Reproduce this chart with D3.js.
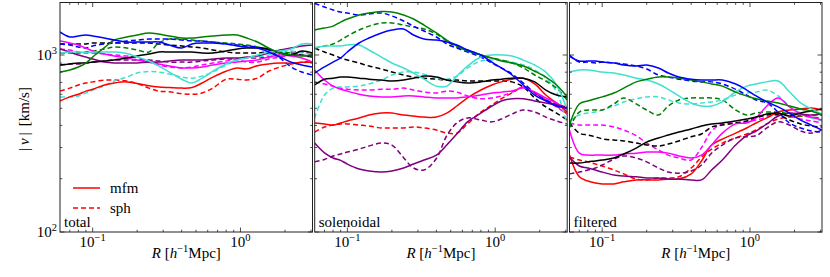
<!DOCTYPE html>
<html><head><meta charset="utf-8">
<script src="https://cdn.jsdelivr.net/npm/d3@7"></script>
<style>
html,body{margin:0;padding:0;background:#fff;}
</style></head>
<body><svg id="c" width="830" height="277" font-family="'Liberation Serif','Times New Roman','DejaVu Serif',serif"></svg>
<script>
// ---- data ----
const R = [0.06,0.07,0.08,0.09,0.1,0.12,0.14,0.17,0.2,0.24,0.28,0.33,0.4,0.47,0.55,0.65,0.8,0.95,1.1,1.3,1.55,1.85,2.2,2.6,3.07];
const seriesColors = ["red","magenta","purple","black","turquoise","green","blue"];
const panelNames = ["total","solenoidal","filtered"];
const xTicks = [0.1, 1];
const xTickLabels = ["10", "10"]; const xTickExps = ["\u22121","0"];
const yTicks = [100, 1000];
const yTickLabels = ["10","10"]; const yTickExps = ["2","3"];

const totalMfm = {
  red:[550,580,600,625,640,677,695,705,690,670,660,655,650,655,695,750,810,845,835,870,890,900,900,910,910],
  magenta:[1199,1169,1139,1095,1053,1013,987,962,937,912,890,867,845,845,856,878,901,912,925,937,974,1000,987,962,912],
  purple:[1081,1040,1000,974,949,912,901,901,901,912,912,925,937,937,937,949,962,962,974,987,1026,1067,1095,1124,1139],
  black:[878,890,901,901,912,925,937,962,987,1013,1040,1040,1040,1040,1026,1026,1053,1081,1095,1095,1081,1026,1000,1053,1026],
  turquoise:[1026,1040,1040,1033,1040,1040,1040,1020,974,925,867,801,730,695,740,810,890,937,962,1000,1040,1053,1081,1154,1154],
  green:[801,823,856,901,974,1100,1215,1264,1297,1332,1314,1280,1247,1247,1264,1280,1297,1297,1247,1184,1095,1026,1000,987,1000],
  blue:[1349,1264,1280,1297,1280,1247,1215,1184,1184,1184,1184,1139,1095,1154,1169,1169,1154,1124,1110,1095,1040,974,912,878,856]
};
const totalSph = {
  red:[625,650,677,695,705,722,722,713,690,650,625,620,605,600,610,650,730,730,722,740,810,855,890,910,937],
  magenta:[1081,1067,1040,1026,1026,1013,1000,987,962,912,878,856,845,856,878,901,925,937,912,912,949,974,1000,1000,962],
  purple:[878,890,890,901,912,925,937,937,937,937,925,912,912,912,925,937,949,949,962,962,974,1000,1040,1040,1013],
  black:[1154,1154,1154,1154,1169,1169,1169,1169,1169,1169,1154,1139,1124,1110,1095,1067,1040,1026,1026,1026,1040,1026,1013,1000,974],
  turquoise:[580,580,587,610,634,670,713,751,791,807,801,780,751,740,760,801,878,937,962,974,1000,1026,1053,1026,1013],
  green:[1026,1026,1026,1040,1053,1081,1110,1095,1067,1040,1169,1231,1231,1215,1199,1184,1169,1154,1139,1110,1067,1040,1026,1000,987],
  blue:[1154,1139,1110,1095,1124,1154,1169,1199,1215,1231,1231,1231,1215,1199,1199,1184,1154,1139,1124,1110,1067,962,856,801,771]
};
const solMfm = {
  red:[413,408,402,413,424,441,458,470,470,458,452,446,446,470,515,572,634,677,705,730,740,686,594,536,476],
  magenta:[823,722,667,640,625,600,587,580,580,587,587,580,572,572,572,580,594,610,617,627,650,617,572,536,489],
  purple:[318,280,262,254,242,227,221,218,221,230,242,255,272,310,358,419,470,515,550,566,566,550,536,522,509],
  black:[677,730,740,751,751,740,730,722,713,722,740,760,751,722,705,695,705,722,730,740,740,705,634,594,580],
  turquoise:[1095,1124,1124,1124,1139,1139,1067,974,901,845,791,730,667,667,760,867,974,1000,1000,987,937,878,801,677,489],
  green:[1384,1419,1456,1535,1597,1683,1726,1760,1752,1683,1597,1477,1332,1215,1124,1053,1000,962,925,901,867,810,751,677,580],
  blue:[791,856,912,962,1040,1169,1247,1332,1384,1402,1297,1231,1215,1184,1139,1067,1000,912,845,771,677,594,550,515,502]
};
const solSph = {
  red:[367,392,402,408,408,402,397,387,387,387,392,387,377,362,362,408,476,522,566,610,660,610,557,515,464],
  magenta:[705,686,667,650,640,634,634,640,640,650,634,617,610,625,617,587,566,572,587,617,660,617,557,509,464],
  purple:[249,257,269,276,283,294,306,318,310,263,230,224,260,350,413,441,429,419,435,464,489,476,446,424,408],
  black:[1095,1040,1000,962,937,901,867,834,801,771,751,740,730,722,722,713,713,713,713,705,660,572,509,470,429],
  turquoise:[441,594,650,660,660,667,686,722,771,801,801,780,740,730,760,845,925,937,937,912,878,823,740,620,402],
  green:[1095,1124,1154,1215,1280,1384,1456,1516,1516,1477,1439,1402,1314,1199,1110,1067,1000,962,937,901,845,771,713,650,557],
  blue:[1960,1866,1796,1752,1726,1683,1705,1726,1661,1556,1456,1366,1264,1154,1095,1040,974,901,845,782,695,610,557,528,502]
};
const filMfm = {
  red:[273,205,194,189,187,187,192,197,197,197,199,199,213,252,310,335,362,387,413,441,476,489,496,502,489],
  magenta:[377,279,272,272,272,272,276,279,283,283,279,269,262,272,310,362,408,413,441,515,572,509,464,446,429],
  purple:[265,236,230,224,218,210,207,205,202,202,199,199,197,197,224,255,310,350,372,408,452,470,464,458,464],
  black:[245,245,249,252,255,262,276,298,322,340,353,367,382,397,408,413,424,435,446,464,470,452,470,483,496],
  turquoise:[801,823,823,813,801,791,771,740,722,686,640,587,536,515,515,543,620,667,686,705,713,620,536,496,464],
  green:[402,529,550,566,580,610,650,705,730,751,751,740,722,705,686,667,617,587,566,550,536,515,496,483,458],
  blue:[987,925,925,925,912,901,878,867,878,845,791,751,730,722,722,722,686,634,587,543,509,470,429,402,377]
};
const filSph = {
  red:[265,255,249,242,236,224,213,199,197,202,202,205,230,265,294,318,340,358,377,408,435,446,452,458,458],
  magenta:[413,402,402,402,402,392,377,350,318,291,272,262,255,300,372,408,413,419,429,446,464,452,435,424,413],
  purple:[213,218,224,230,239,258,269,262,249,230,218,215,221,239,279,310,340,345,350,387,419,402,372,362,377],
  black:[413,362,353,345,336,331,327,318,310,306,314,327,345,358,392,402,413,424,441,458,458,429,408,397,392],
  turquoise:[424,458,470,476,489,515,543,566,580,580,557,536,529,536,543,557,594,610,617,634,587,515,470,441,424],
  green:[387,476,489,489,489,529,572,529,489,458,515,557,572,572,572,557,489,458,470,476,476,464,452,446,441],
  blue:[1000,912,912,901,912,901,890,867,834,771,751,730,713,705,705,686,640,594,557,536,476,413,387,372,367]
};
const panelsMfm = [totalMfm, solMfm, filMfm];
const panelsSph = [totalSph, solSph, filSph];

// ---- layout ----
const svg = d3.select("#c");
const FONT = "'Liberation Serif','Times New Roman','DejaVu Serif',serif";
const panelLefts = [60, 314.7, 569.5];
const pw = 252.5, topY = 2.5, bottomY = 232;
const y = d3.scaleLog().domain([100, 1980]).range([bottomY, topY]);
const colorHex = {red:"#ff0000", magenta:"#ff00ff", purple:"#800080", black:"#000000", turquoise:"#40e0d0", green:"#008000", blue:"#0000ff"};
const minorX = [0.07,0.08,0.09,0.2,0.3,0.4,0.5,0.6,0.7,0.8,0.9,2,3];
const minorY = [200,300,400,500,600,700,800,900];

function txt(sel) { return sel.append("text").attr("font-family", FONT).attr("fill", "#000"); }

panelLefts.forEach((L, pi) => {
  const x = d3.scaleLog().domain([0.0601, 3.07]).range([L, L + pw]);
  const g = svg.append("g");
  const clipId = "clip" + pi;
  svg.append("clipPath").attr("id", clipId).append("rect")
    .attr("x", L).attr("y", topY).attr("width", pw).attr("height", bottomY - topY);
  const lines = g.append("g").attr("clip-path", `url(#${clipId})`);
  const line = d3.line().x((d, i) => x(R[i])).y(d => y(d)).curve(d3.curveCatmullRom.alpha(0.5));
  seriesColors.forEach(c => {
    lines.append("path").datum(panelsSph[pi][c]).attr("d", line)
      .attr("fill", "none").attr("stroke", colorHex[c]).attr("stroke-width", 1.5)
      .attr("stroke-dasharray", "5,3");
  });
  seriesColors.forEach(c => {
    lines.append("path").datum(panelsMfm[pi][c]).attr("d", line)
      .attr("fill", "none").attr("stroke", colorHex[c]).attr("stroke-width", 1.5);
  });
  // ticks
  const tk = g.append("g").attr("stroke", "#222").attr("stroke-width", 0.8);
  const addX = (v, len) => {
    tk.append("line").attr("x1", x(v)).attr("x2", x(v)).attr("y1", bottomY).attr("y2", bottomY - len);
    tk.append("line").attr("x1", x(v)).attr("x2", x(v)).attr("y1", topY).attr("y2", topY + len);
  };
  const addY = (v, len) => {
    tk.append("line").attr("y1", y(v)).attr("y2", y(v)).attr("x1", L).attr("x2", L + len);
    tk.append("line").attr("y1", y(v)).attr("y2", y(v)).attr("x1", L + pw).attr("x2", L + pw - len);
  };
  xTicks.forEach(v => addX(v, 4.5));
  minorX.forEach(v => addX(v, 2.3));
  yTicks.forEach(v => addY(v, 4.5));
  minorY.forEach(v => addY(v, 2.3));
  g.append("rect").attr("x", L).attr("y", topY).attr("width", pw).attr("height", bottomY - topY)
    .attr("fill", "none").attr("stroke", "#222").attr("stroke-width", 1);
  // x tick labels
  xTicks.forEach((v, i) => {
    const t = txt(g).attr("x", x(v)).attr("y", 247).attr("text-anchor", "middle").attr("font-size", 15);
    t.append("tspan").text(xTickLabels[i]);
    t.append("tspan").attr("dy", -6).attr("font-size", 10.5).text(xTickExps[i]);
  });
  // x axis label
  const xl = txt(g).attr("x", L + pw / 2).attr("y", 258).attr("text-anchor", "middle").attr("font-size", 15);
  xl.append("tspan").attr("font-style", "italic").text("R");
  xl.append("tspan").text(" [");
  xl.append("tspan").attr("font-style", "italic").text("h");
  xl.append("tspan").attr("dy", -6).attr("font-size", 10.5).text("\u22121");
  xl.append("tspan").attr("dy", 6).text("Mpc]");
  // panel name
  txt(g).attr("x", L + 4).attr("y", 227).attr("font-size", 15).text(panelNames[pi]);
  // y tick labels on first panel
  if (pi === 0) {
    yTicks.forEach((v, i) => {
      const t = txt(g).attr("x", L - 3).attr("y", y(v) + 5).attr("text-anchor", "end").attr("font-size", 15);
      t.append("tspan").text(yTickLabels[i]);
      t.append("tspan").attr("dy", -6).attr("font-size", 10.5).text(yTickExps[i]);
    });
    // legend
    const lg = g.append("g");
    lg.append("line").attr("x1", L + 13).attr("x2", L + 40).attr("y1", 188).attr("y2", 188)
      .attr("stroke", colorHex.red).attr("stroke-width", 1.5);
    txt(lg).attr("x", L + 50).attr("y", 193).attr("font-size", 15).text("mfm");
    lg.append("line").attr("x1", L + 13).attr("x2", L + 40).attr("y1", 208).attr("y2", 208)
      .attr("stroke", colorHex.red).attr("stroke-width", 1.5).attr("stroke-dasharray", "5,3");
    txt(lg).attr("x", L + 50).attr("y", 213).attr("font-size", 15).text("sph");
  }
});
// y label
const yl = txt(svg).attr("transform", "translate(29,119) rotate(-90)").attr("text-anchor", "middle").attr("font-size", 15);
yl.append("tspan").text("|");
yl.append("tspan").attr("dx", 3).attr("font-style", "italic").text("v");
yl.append("tspan").attr("dx", 3).text("|");
yl.append("tspan").attr("dx", 6).text("[km/s]");
</script></body></html>
